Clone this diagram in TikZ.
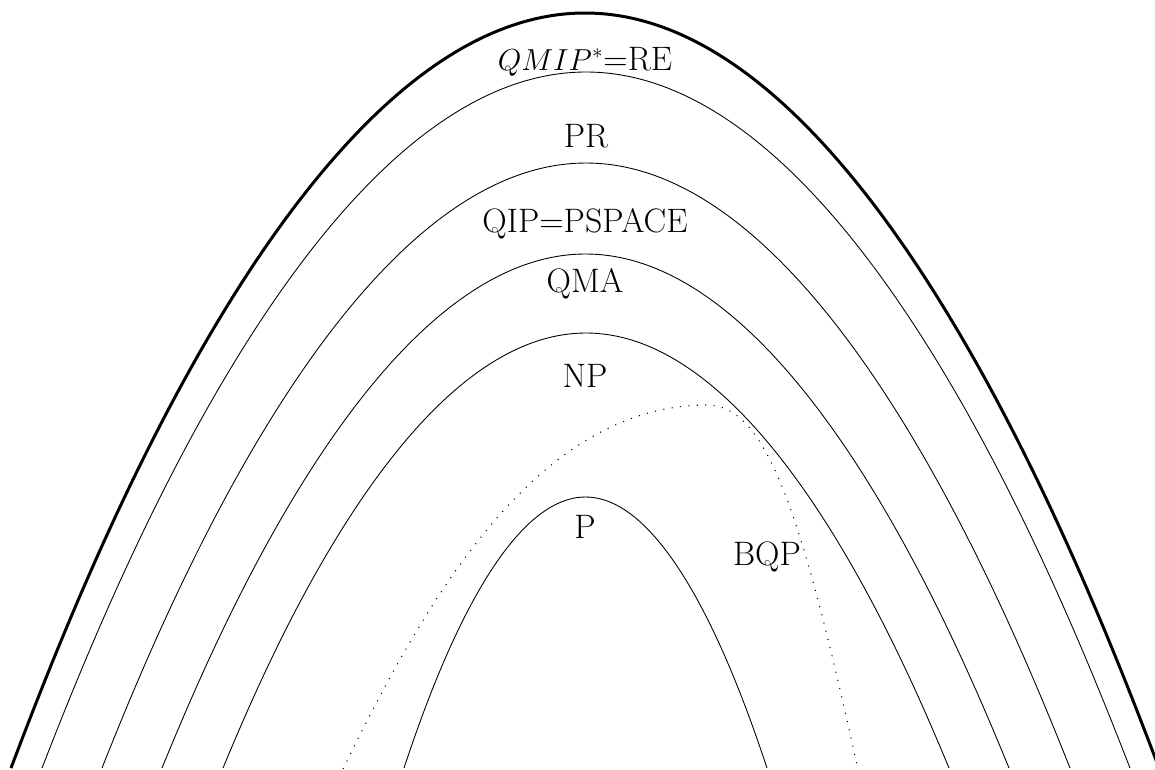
\documentclass[tikz,border=0pt]{standalone}
\begin{document}
\begin{tikzpicture}[x=0.02cm,y=-0.02cm,
  classline/.style={line width=0.5pt},
  outerline/.style={line width=1.7pt},
  bqpline/.style={line width=0.6pt,dash pattern=on 0.6pt off 4.2pt},
  lbl/.style={anchor=base,inner sep=0pt,font=\fontsize{19.3}{23}\selectfont}]
\useasboundingbox (0,0) rectangle (1155,769);
\begin{scope}
\clip (0,0) rectangle (1155,769);
% outer class
\draw[outerline] (11,768) parabola bend (585,13) (1159,768);
% PR
\draw[classline] (42,768) parabola bend (586,72) (1130,768);
% QIP=PSPACE
\draw[classline] (102,768) parabola bend (586,163) (1070,768);
% QMA
\draw[classline] (162,768) parabola bend (585.5,254) (1009,768);
% NP
\draw[classline] (223,768) parabola bend (586,333) (949,768);
% P
\draw[classline] (404,768) parabola bend (585.5,497) (767,768);
% BQP
\draw[bqpline] (343,769) .. controls (426,599) and (537,405) .. (707,405)
               .. controls (767,405) and (802,515) .. (857,765);
\end{scope}
\node[lbl] (re) at (585,70) {{\fontsize{16.8}{20}\selectfont$QMIP^*$}=RE};
\node[lbl] (pr) at (586,147) {PR};
\node[lbl] (qip) at (585,232) {QIP=PSPACE};
\node[lbl] (qma) at (585,292) {QMA};
\node[lbl] (np) at (585,387) {NP};
\node[lbl] (p) at (585,538) {P};
\node[lbl] (bqp) at (767,565) {BQP};
\end{tikzpicture}
\end{document}
